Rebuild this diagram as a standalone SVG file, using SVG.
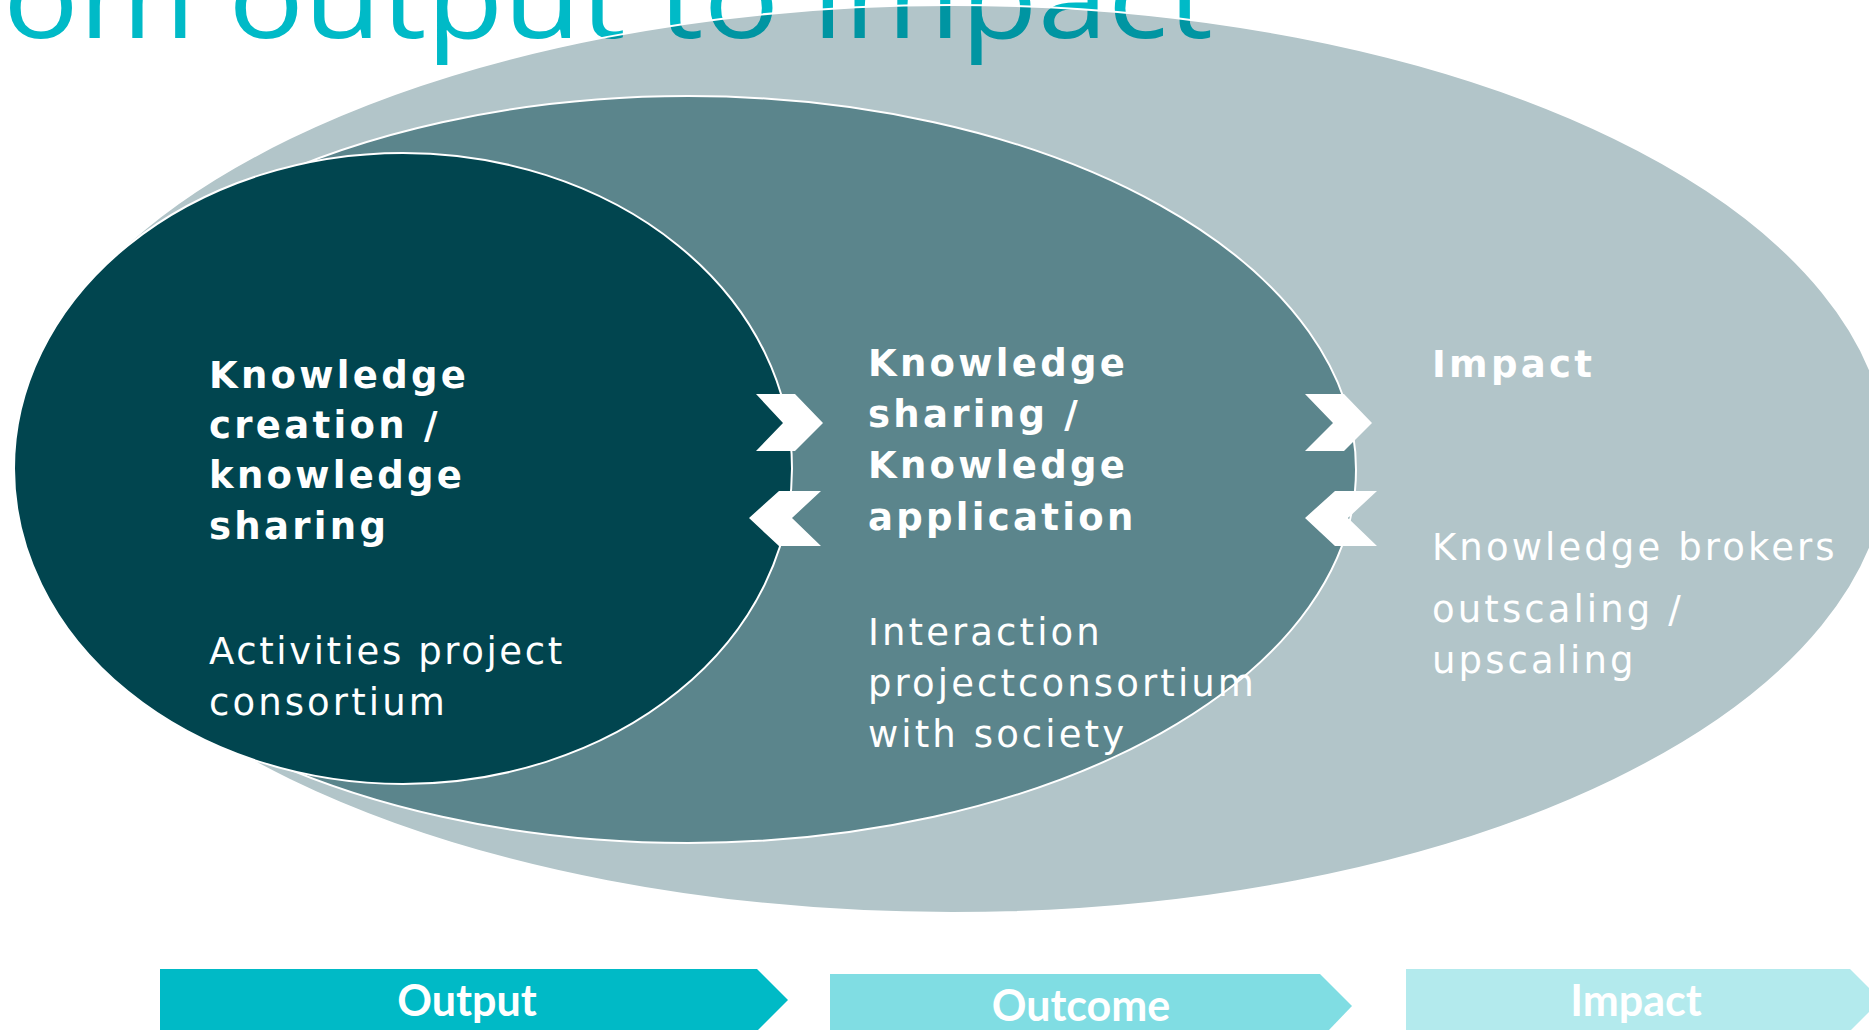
<svg xmlns="http://www.w3.org/2000/svg" width="1869" height="1030" viewBox="0 0 1869 1030">
  <style>
    .title { font-family: "Open Sans", "Liberation Sans", sans-serif; font-size: 112px; fill: #00BAC7; }
    .ell { stroke: #FFFFFF; stroke-width: 2; }
    .hd { font-family: "DejaVu Sans", "Liberation Sans", sans-serif; font-weight: bold; font-size: 37px; letter-spacing: 3.3px; fill: #FFFFFF; }
    .bd { font-family: "DejaVu Sans", "Liberation Sans", sans-serif; font-size: 37px; letter-spacing: 3.1px; fill: #FFFFFF; }
    .chev { fill: #FFFFFF; }
    .bar-label { font-family: Lato, "Liberation Sans", sans-serif; font-weight: bold; font-size: 43px; fill: #FFFFFF; text-anchor: middle; }
  </style>
  <rect x="0" y="0" width="1869" height="1030" fill="#FFFFFF"/>

  <g id="title">
    <text class="title" x="3" y="38" textLength="1210" lengthAdjust="spacingAndGlyphs">om output to impact</text>
  </g>

  <g id="node-impact">
    <ellipse class="ell" cx="952" cy="459" rx="936" ry="454" fill="#00404D" fill-opacity="0.3"/>
    <text class="hd" x="1432" y="377">Impact</text>
    <text class="bd" x="1432" y="560">Knowledge brokers</text>
    <text class="bd" x="1432" y="622">outscaling /</text>
    <text class="bd" x="1432" y="673">upscaling</text>
  </g>

  <g id="node-outcome">
    <ellipse class="ell" cx="688" cy="469.5" rx="668" ry="373.5" fill="#5B858C"/>
    <text class="hd" x="868" y="376">Knowledge</text>
    <text class="hd" x="868" y="427">sharing /</text>
    <text class="hd" x="868" y="478">Knowledge</text>
    <text class="hd" x="868" y="530">application</text>
    <text class="bd" x="868" y="645">Interaction</text>
    <text class="bd" x="868" y="696">projectconsortium</text>
    <text class="bd" x="868" y="747">with society</text>
  </g>

  <g id="node-output">
    <ellipse class="ell" cx="403" cy="468.5" rx="389" ry="315.5" fill="#01454F"/>
    <text class="hd" x="209" y="388">Knowledge</text>
    <text class="hd" x="209" y="438">creation /</text>
    <text class="hd" x="209" y="488">knowledge</text>
    <text class="hd" x="209" y="539">sharing</text>
    <text class="bd" x="209" y="664" style="letter-spacing:2.6px">Activities project</text>
    <text class="bd" x="209" y="715">consortium</text>
  </g>

  <g id="connectors">
    <polygon class="chev" points="756,394 795,394 823,423 795,451 756,451 783,423"/>
    <polygon class="chev" points="821,491 779,491 749,518 779,546 821,546 792,518"/>
    <polygon class="chev" points="1305,394 1344,394 1372,423 1344,451 1305,451 1333,423"/>
    <polygon class="chev" points="1377,491 1335,491 1305,518 1335,546 1377,546 1348,518"/>
  </g>

  <g id="bar-output">
    <polygon points="160,969 757,969 788,1000 757,1031 160,1031" fill="#00BAC6"/>
    <text class="bar-label" x="467" y="1016">Output</text>
  </g>
  <g id="bar-outcome">
    <polygon points="830,974 1320,974 1352,1006 1328,1031 830,1031" fill="#80DDE3"/>
    <text class="bar-label" x="1081" y="1021">Outcome</text>
  </g>
  <g id="bar-impact">
    <polygon points="1406,969 1850,969 1881,1000 1850,1031 1406,1031" fill="#B3EAED"/>
    <text class="bar-label" x="1636" y="1016">Impact</text>
  </g>
</svg>
